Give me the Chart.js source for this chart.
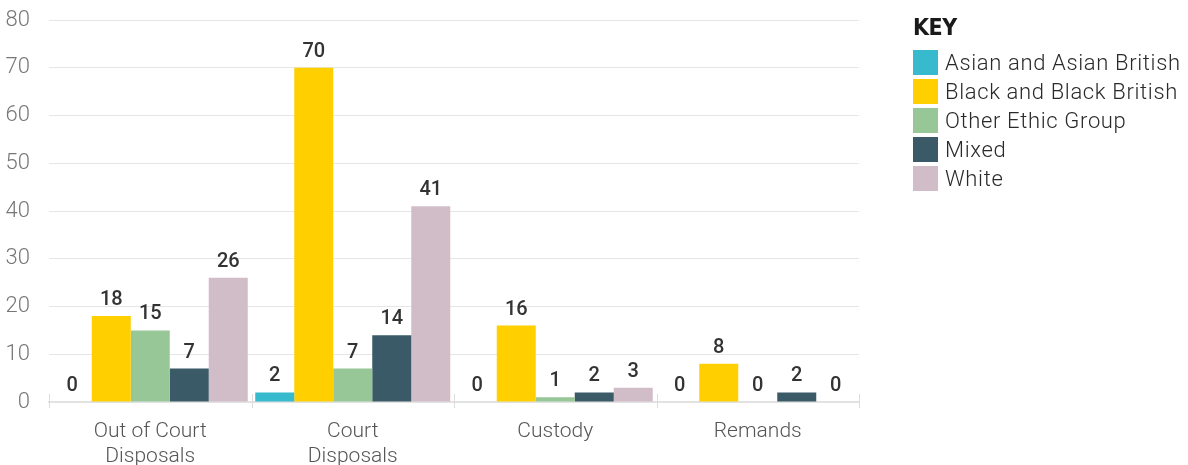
<!DOCTYPE html>
<html>
<head>
<meta charset="utf-8">
<script src="https://cdn.jsdelivr.net/npm/chart.js@4.4.1/dist/chart.umd.min.js"></script>
<style>
  html, body { margin: 0; padding: 0; background: #fff; }
  #wrap { position: relative; width: 1188px; height: 465px; overflow: hidden; }
  #wrap canvas { position: absolute; left: 0; top: 0; }
  #key { position: absolute; left: 913px; top: 15px; font-family: Roboto, "Liberation Sans", sans-serif; }
  #key h3 { margin: 0 0 9px 0; font-family: "DejaVu Sans Condensed", "DejaVu Sans", sans-serif; font-weight: 900; font-size: 23px; line-height: 24px; color: #1a1a1a; letter-spacing: -0.5px; }
  #key .row { display: flex; align-items: center; height: 29px; }
  #key .sw { width: 25px; height: 25px; margin-right: 7px; flex: none; }
  #key .lbl { font-size: 22px; font-weight: 300; letter-spacing: 0.65px; color: #2a2a2a; white-space: nowrap; }
</style>
</head>
<body>
<div id="wrap">
  <canvas id="chart" width="1188" height="465"></canvas>
  <div id="key"><h3>KEY</h3><div id="keyRows"></div></div>
</div>
<script>
// Disposal outcomes by ethnic group
const categories = [["Out of Court", "Disposals"], ["Court", "Disposals"], "Custody", "Remands"];
const seriesNames = ["Asian and Asian British", "Black and Black British", "Other Ethic Group", "Mixed", "White"];
const asianValues = [0, 2, 0, 0];
const blackValues = [18, 70, 16, 8];
const otherValues = [15, 7, 1, 0];
const mixedValues = [7, 14, 2, 2];
const whiteValues = [26, 41, 3, 0];
const seriesColors = ["#37BACD", "#FFCF00", "#97C697", "#3A5A67", "#D1BDC8"];
const yTicks = [0, 10, 20, 30, 40, 50, 60, 70, 80];

const seriesValues = [asianValues, blackValues, otherValues, mixedValues, whiteValues];

// Key panel
const keyRows = document.getElementById("keyRows");
seriesNames.forEach((name, i) => {
  const row = document.createElement("div");
  row.className = "row";
  const sw = document.createElement("div");
  sw.className = "sw";
  sw.style.background = seriesColors[i];
  const lbl = document.createElement("div");
  lbl.className = "lbl";
  lbl.textContent = name;
  row.appendChild(sw);
  row.appendChild(lbl);
  keyRows.appendChild(row);
});

// Value labels above each bar
const valueLabels = {
  id: "valueLabels",
  afterDatasetsDraw(chart) {
    const ctx = chart.ctx;
    ctx.save();
    ctx.font = "500 20px Roboto, 'Liberation Sans', sans-serif";
    ctx.fillStyle = "#333";
    ctx.textAlign = "center";
    ctx.textBaseline = "alphabetic";
    chart.data.datasets.forEach((ds, di) => {
      const meta = chart.getDatasetMeta(di);
      meta.data.forEach((bar, i) => {
        ctx.fillText(String(ds.data[i]), bar.x, bar.y - 11);
      });
    });
    ctx.restore();
  }
};

// Short boundary marks straddling the category axis
const boundaryMarks = {
  id: "boundaryMarks",
  afterDraw(chart) {
    const x = chart.scales.x;
    const ctx = chart.ctx;
    const n = chart.data.labels.length;
    ctx.save();
    ctx.strokeStyle = "#dcdcdc";
    ctx.lineWidth = 1;
    for (let i = 0; i <= n; i++) {
      const px = Math.round(x.getPixelForValue(i - 0.5)) + 0.5;
      ctx.beginPath();
      ctx.moveTo(px, x.top - 8);
      ctx.lineTo(px, x.top + 6);
      ctx.stroke();
    }
    ctx.restore();
  }
};

new Chart(document.getElementById("chart"), {
  type: "bar",
  data: {
    labels: categories,
    datasets: seriesNames.map((name, i) => ({
      label: name,
      data: seriesValues[i],
      backgroundColor: seriesColors[i],
      borderWidth: 0,
      barPercentage: 1,
      categoryPercentage: 0.963
    }))
  },
  options: {
    responsive: false,
    animation: false,
    layout: { padding: { top: 20, right: 329, left: 0, bottom: 0 } },
    plugins: { legend: { display: false }, tooltip: { enabled: false } },
    scales: {
      x: {
        grid: { display: false },
        border: { display: true, color: "#e2e2e2", width: 2 },
        ticks: {
          color: "#555",
          padding: 9,
          font: { family: "Roboto, 'Liberation Sans', sans-serif", size: 21, weight: 300, lineHeight: 1.2 }
        },
        afterFit(s) { s.height = 63; }
      },
      y: {
        min: 0,
        max: 80,
        afterBuildTicks(s) { s.ticks = yTicks.map(v => ({ value: v })); },
        grid: { color: "#e6e6e6", lineWidth: 1, drawTicks: false },
        border: { display: false },
        ticks: {
          color: "#777",
          padding: 19,
          font: { family: "Roboto, 'Liberation Sans', sans-serif", size: 22, weight: 300 }
        },
        afterFit(s) { s.width = 49; s.paddingTop = 0; s.paddingBottom = 0; }
      }
    }
  },
  plugins: [valueLabels, boundaryMarks]
});
</script>
</body>
</html>
